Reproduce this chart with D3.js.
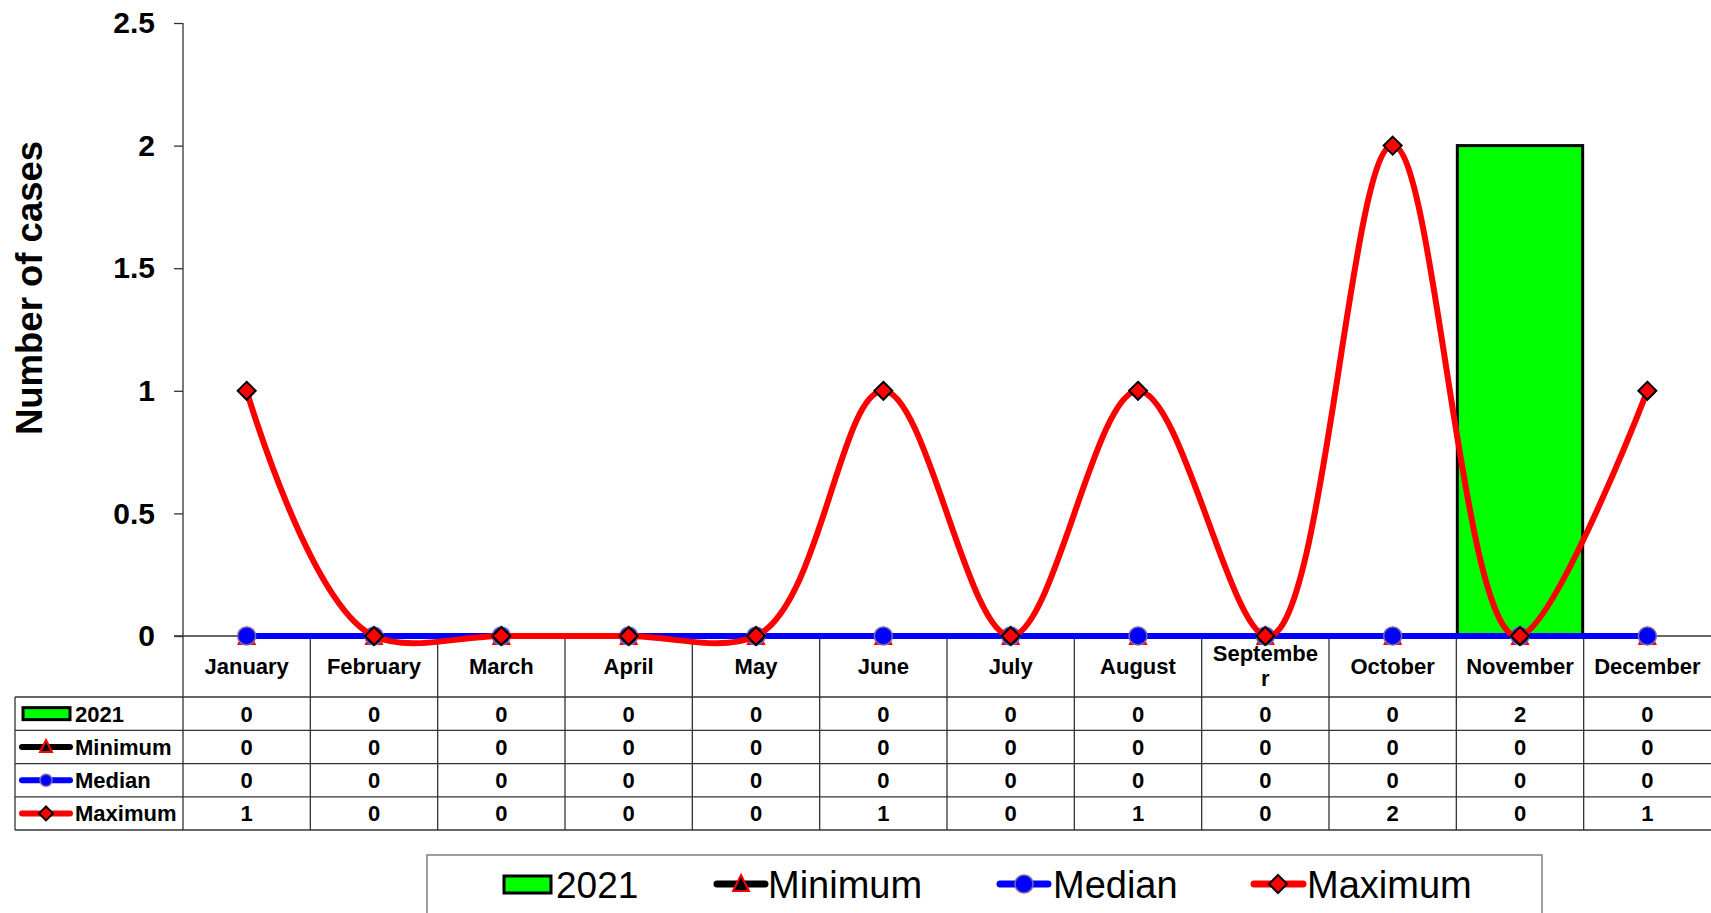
<!DOCTYPE html>
<html>
<head>
<meta charset="utf-8">
<script src="https://cdn.jsdelivr.net/npm/d3@7"></script>
<style>
  html, body { margin: 0; padding: 0; background: #fff; }
  svg { display: block; font-family: "Liberation Sans", Arial, sans-serif; }
</style>
</head>
<body>
<svg id="chart" width="1711" height="913"></svg>
<script>
// ---- data ----
const months = ["January","February","March","April","May","June","July","August","September","October","November","December"];
const monthLabelLines = [["January"],["February"],["March"],["April"],["May"],["June"],["July"],["August"],["Septembe","r"],["October"],["November"],["December"]];
const values2021 = [0,0,0,0,0,0,0,0,0,0,2,0];
const minimumValues = [0,0,0,0,0,0,0,0,0,0,0,0];
const medianValues = [0,0,0,0,0,0,0,0,0,0,0,0];
const maximumValues = [1,0,0,0,0,1,0,1,0,2,0,1];
const yTicks = [0,0.5,1,1.5,2,2.5];
const seriesNames = ["2021","Minimum","Median","Maximum"];
const yTitle = "Number of cases";

// ---- layout ----
const svg = d3.select("#chart");
const plotLeft = 183, plotRight = 1711, plotTop = 23, plotBottom = 636;
const tableBottomRows = [697, 730.3, 763.6, 796.9, 830];
const tableLeft = 15;

const x = d3.scaleBand().domain(months).range([plotLeft, plotRight]).padding(0);
const y = d3.scaleLinear().domain([0, 2.5]).range([plotBottom, plotTop]);
const cx = m => x(m) + x.bandwidth() / 2;

const gridColor = "#333";

// Y axis
const yAxis = d3.axisLeft(y).tickValues(yTicks).tickFormat(d => String(d)).tickSize(9).tickSizeOuter(0).tickPadding(19);
const gy = svg.append("g").attr("transform", `translate(${plotLeft},0)`).call(yAxis);
gy.select(".domain").remove();
gy.selectAll(".tick line").attr("stroke", gridColor).attr("stroke-width", 1.3);
gy.selectAll(".tick text").attr("font-size", 30).attr("font-weight", "bold").attr("fill", "#000")
  .attr("font-family", "'Liberation Sans', Arial, sans-serif");

svg.append("line").attr("x1", plotLeft).attr("x2", plotLeft).attr("y1", y(2.5)).attr("y2", tableBottomRows[4])
  .attr("stroke", gridColor).attr("stroke-width", 1.3);
svg.append("line").attr("x1", plotLeft - 9).attr("x2", plotRight).attr("y1", y(0)).attr("y2", y(0))
  .attr("stroke", gridColor).attr("stroke-width", 1.3);

svg.append("text").attr("transform", `translate(42,288) rotate(-90)`).attr("text-anchor", "middle")
  .attr("font-size", 36.5).attr("font-weight", "bold").text(yTitle);

// ---- table ----
const tg = svg.append("g");
months.slice(1).forEach(m => {
  tg.append("line").attr("x1", x(m)).attr("x2", x(m)).attr("y1", y(0)).attr("y2", tableBottomRows[4])
    .attr("stroke", gridColor).attr("stroke-width", 1.3);
});
tableBottomRows.forEach(ry => {
  tg.append("line").attr("x1", tableLeft).attr("x2", plotRight).attr("y1", ry).attr("y2", ry)
    .attr("stroke", gridColor).attr("stroke-width", 1.3);
});
tg.append("line").attr("x1", tableLeft).attr("x2", tableLeft).attr("y1", tableBottomRows[0]).attr("y2", tableBottomRows[4])
  .attr("stroke", gridColor).attr("stroke-width", 1.3);

months.forEach((m, i) => {
  const lines = monthLabelLines[i];
  const t = tg.append("text").attr("text-anchor", "middle").attr("font-size", 22).attr("font-weight", "bold");
  if (lines.length === 1) {
    t.attr("x", cx(m)).attr("y", 674).text(lines[0]);
  } else {
    t.append("tspan").attr("x", cx(m)).attr("y", 661).text(lines[0]);
    t.append("tspan").attr("x", cx(m)).attr("y", 686).text(lines[1]);
  }
});

const tableSeries = [values2021, minimumValues, medianValues, maximumValues];
tableSeries.forEach((arr, r) => {
  const rc = (tableBottomRows[r] + tableBottomRows[r + 1]) / 2;
  months.forEach((m, i) => {
    tg.append("text").attr("x", cx(m)).attr("y", rc + 8).attr("text-anchor", "middle")
      .attr("font-size", 22).attr("font-weight", "bold").text(arr[i]);
  });
  tg.append("text").attr("x", 75).attr("y", rc + 8).attr("font-size", 22).attr("font-weight", "bold").text(seriesNames[r]);
});

// ---- symbol helpers ----
function triangle(g, px, py, s, sw) {
  g.append("path").attr("d", `M${px},${py - s}L${px + s},${py + s}L${px - s},${py + s}Z`)
    .attr("fill", "#000").attr("stroke", "#ff0000").attr("stroke-width", sw);
}
function circle(g, px, py, r) {
  g.append("circle").attr("cx", px).attr("cy", py).attr("r", r).attr("fill", "#0000ff")
    .attr("stroke", "#7a6aa8").attr("stroke-width", 1.5);
}
function diamond(g, px, py, s) {
  g.append("path").attr("d", `M${px},${py - s}L${px + s},${py}L${px},${py + s}L${px - s},${py}Z`)
    .attr("fill", "#ff0000").attr("stroke", "#000").attr("stroke-width", 2);
}
function keyLine(g, x1, x2, yy, color, w) {
  g.append("line").attr("x1", x1).attr("x2", x2).attr("y1", yy).attr("y2", yy)
    .attr("stroke", color).attr("stroke-width", w).attr("stroke-linecap", "round");
}

{
  const rc = r => (tableBottomRows[r] + tableBottomRows[r + 1]) / 2;
  tg.append("rect").attr("x", 23).attr("y", rc(0) - 6).attr("width", 47).attr("height", 12)
    .attr("fill", "#00ff00").attr("stroke", "#000").attr("stroke-width", 3);
  keyLine(tg, 22, 70, rc(1), "#000", 6); triangle(tg, 46, rc(1) - 1, 6, 2);
  keyLine(tg, 22, 70, rc(2), "#0000ff", 6); circle(tg, 46, rc(2), 6);
  keyLine(tg, 22, 70, rc(3), "#ff0000", 6); diamond(tg, 46, rc(3), 7);
}

// ---- bars ----
const pg = svg.append("g");
pg.selectAll("rect.bar").data(values2021.map((v, i) => ({ m: months[i], v })).filter(d => d.v > 0))
  .enter().append("rect").attr("class", "bar")
  .attr("x", d => x(d.m) + 1).attr("width", x.bandwidth() - 2)
  .attr("y", d => y(d.v)).attr("height", d => y(0) - y(d.v))
  .attr("fill", "#00ff00").attr("stroke", "#000").attr("stroke-width", 3);

// ---- lines ----
const lineGen = d3.line().x((d, i) => cx(months[i])).y(d => y(d)).curve(d3.curveCatmullRom.alpha(0.75));
const straight = d3.line().x((d, i) => cx(months[i])).y(d => y(d));

pg.append("path").attr("d", straight(minimumValues)).attr("fill", "none").attr("stroke", "#000").attr("stroke-width", 6);
minimumValues.forEach((v, i) => triangle(pg, cx(months[i]), y(v), 8, 2));
pg.append("path").attr("d", straight(medianValues)).attr("fill", "none").attr("stroke", "#0000ff").attr("stroke-width", 6);
medianValues.forEach((v, i) => circle(pg, cx(months[i]), y(v), 9));
pg.append("path").attr("d", lineGen(maximumValues)).attr("fill", "none").attr("stroke", "#ff0000").attr("stroke-width", 6);
maximumValues.forEach((v, i) => diamond(pg, cx(months[i]), y(v), 9));

// ---- legend ----
const lg = svg.append("g");
lg.append("rect").attr("x", 427).attr("y", 855).attr("width", 1115).attr("height", 80)
  .attr("fill", "#fff").attr("stroke", "#7f7f7f").attr("stroke-width", 1.5);
const legY = 884, legBase = 898, legFont = 38;
lg.append("rect").attr("x", 504).attr("y", 876).attr("width", 47).attr("height", 17)
  .attr("fill", "#00ff00").attr("stroke", "#000").attr("stroke-width", 3);
lg.append("text").attr("x", 556).attr("y", legBase).attr("font-size", 37).text(seriesNames[0]);
keyLine(lg, 717, 765, legY, "#000", 7); triangle(lg, 741, legY - 1, 8, 2);
lg.append("text").attr("x", 768).attr("y", legBase).attr("font-size", legFont).text(seriesNames[1]);
keyLine(lg, 1000, 1048, legY, "#0000ff", 7); circle(lg, 1024, legY, 9);
lg.append("text").attr("x", 1053).attr("y", legBase).attr("font-size", legFont).text(seriesNames[2]);
keyLine(lg, 1254, 1303, legY, "#ff0000", 7); diamond(lg, 1278, legY, 9);
lg.append("text").attr("x", 1307).attr("y", legBase).attr("font-size", legFont).text(seriesNames[3]);
</script>
</body>
</html>
